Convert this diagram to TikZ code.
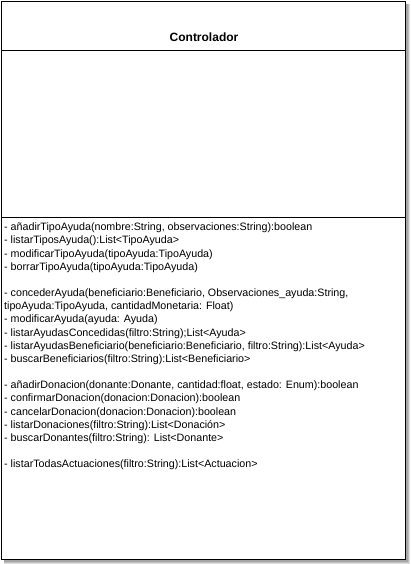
\documentclass[tikz,border=0pt]{standalone}
\usepackage{fontspec}
\setmainfont{Liberation Sans}
\begin{document}
\begin{tikzpicture}[x=1pt,y=-1pt,
  shadowbox/.style={fill=black!25,draw=none},
  classbox/.style={fill=white,draw=black,line width=1pt},
  sepline/.style={draw=black,line width=1pt},
  titletext/.style={font=\fontsize{12}{14}\selectfont\bfseries,inner sep=0pt,anchor=base},
  methtext/.style={font=\fontsize{10.7}{13.17}\selectfont,inner sep=0pt,align=left,anchor=north west}]
\useasboundingbox (0,0) rectangle (410,564);
\fill[black!12] (4,4) rectangle (410,564);
\fill[shadowbox] (4,4) rectangle (409,563);
\fill[black!35] (4,4) rectangle (408,562);
\draw[classbox] (1.5,1.5) rectangle (405.5,559.5);
\coordinate (s1l) at (1.5,50.5);
\coordinate (s1r) at (405.5,50.5);
\coordinate (s2l) at (1.5,217.5);
\coordinate (s2r) at (405.5,217.5);
\draw[sepline] (s1l) -- (s1r);
\draw[sepline] (s2l) -- (s2r);
\node[titletext] (title) at (204,41.5) {Controlador};
\node[methtext] (methods) at (4,222.8) {%
- añadirTipoAyuda(nombre:String, observaciones:String):boolean\\
- listarTiposAyuda():List<TipoAyuda>\\
- modificarTipoAyuda(tipoAyuda:TipoAyuda)\\
- borrarTipoAyuda(tipoAyuda:TipoAyuda)\\
\mbox{}\\
- concederAyuda(beneficiario:Beneficiario, Observaciones\_ayuda:String,\\
tipoAyuda:TipoAyuda, cantidadMonetaria: Float)\\
- modificarAyuda(ayuda: Ayuda)\\
- listarAyudasConcedidas(filtro:String);List<Ayuda>\\
- listarAyudasBeneficiario(beneficiario:Beneficiario, filtro:String):List<Ayuda>\\
- buscarBeneficiarios(filtro:String):List<Beneficiario>\\
\mbox{}\\
- añadirDonacion(donante:Donante, cantidad:float, estado: Enum):boolean\\
- confirmarDonacion(donacion:Donacion):boolean\\
- cancelarDonacion(donacion:Donacion):boolean\\
- listarDonaciones(filtro:String):List<Donación>\\
- buscarDonantes(filtro:String): List<Donante>\\
\mbox{}\\
- listarTodasActuaciones(filtro:String):List<Actuacion>};
\end{tikzpicture}
\end{document}
